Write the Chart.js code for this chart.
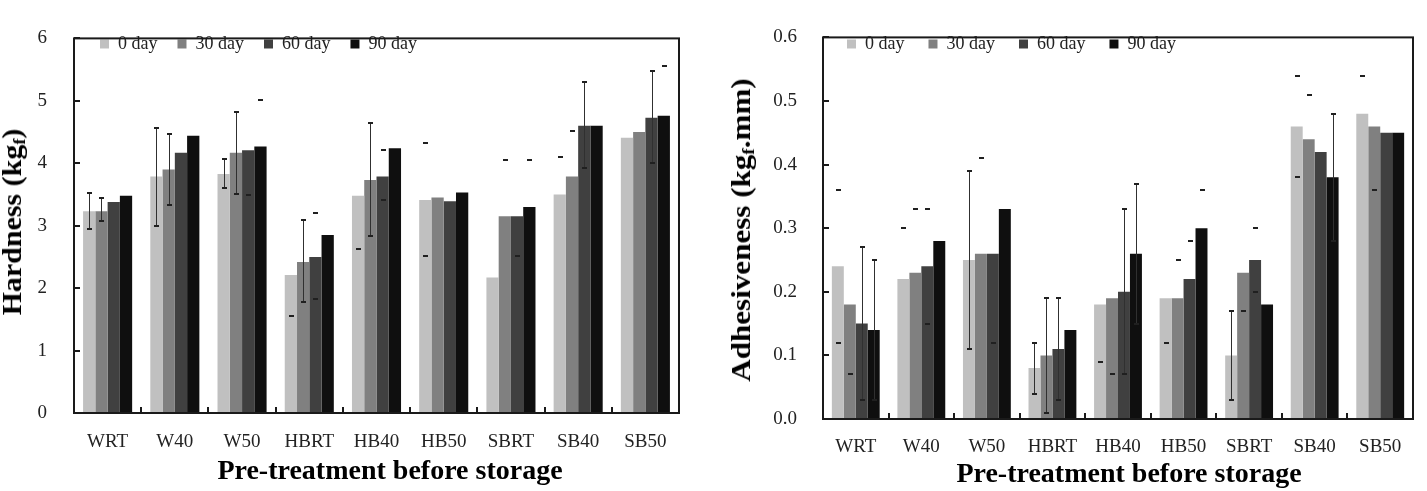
<!DOCTYPE html>
<html><head><meta charset="utf-8">
<script src="https://cdn.jsdelivr.net/npm/chart.js@4.4.1/dist/chart.umd.min.js"></script>
<style>
html,body{margin:0;padding:0;background:#fff;width:1427px;height:491px;overflow:hidden;position:relative;font-family:"Liberation Serif","Times New Roman",serif;}
canvas{position:absolute;top:0;}
#c1{left:0;} #c2{left:710px;}
.t{position:absolute;font-weight:bold;font-size:28px;color:#000;white-space:nowrap;line-height:1;font-family:"Liberation Serif","Times New Roman",serif;}
.tx{transform:translate(-50%,-50%);}
sub{font-size:62%;vertical-align:-0.22em;line-height:0;}
</style></head><body>
<canvas id="c1" width="710" height="491"></canvas>
<canvas id="c2" width="717" height="491"></canvas>
<div class="t" style="left:12px;top:222px;transform:translate(-50%,-50%) rotate(-90deg) scaleX(1.07)">Hardness (kg<sub>f</sub>)</div>
<div class="t tx" style="left:390px;top:470px">Pre-treatment before storage</div>
<div class="t" style="left:741px;top:230px;transform:translate(-50%,-50%) rotate(-90deg) scaleX(1.11)">Adhesiveness (kg<sub>f</sub>.mm)</div>
<div class="t tx" style="left:1129px;top:473px">Pre-treatment before storage</div>
<script>
// ---------- data ----------
const categories = ['WRT','W40','W50','HBRT','HB40','HB50','SBRT','SB40','SB50'];
const seriesNames = ['0 day','30 day','60 day','90 day'];

const hardness0  = [3.23, 3.79, 3.83, 2.21, 3.48, 3.41, 2.17, 3.50, 4.41];
const hardness30 = [3.23, 3.90, 4.17, 2.42, 3.73, 3.45, 3.15, 3.79, 4.50];
const hardness60 = [3.38, 4.17, 4.21, 2.50, 3.79, 3.39, 3.15, 4.60, 4.73];
const hardness90 = [3.48, 4.44, 4.27, 2.85, 4.24, 3.53, 3.30, 4.60, 4.76];

const adhesiveness0  = [0.24, 0.22, 0.25, 0.08, 0.18, 0.19, 0.10, 0.46, 0.48];
const adhesiveness30 = [0.18, 0.23, 0.26, 0.10, 0.19, 0.19, 0.23, 0.44, 0.46];
const adhesiveness60 = [0.15, 0.24, 0.26, 0.11, 0.20, 0.22, 0.25, 0.42, 0.45];
const adhesiveness90 = [0.14, 0.28, 0.33, 0.14, 0.26, 0.30, 0.18, 0.38, 0.45];

const hardnessTicks = [0, 1, 2, 3, 4, 5, 6];
const hardnessTickLabels = ['0','1','2','3','4','5','6'];
const adhesivenessTicks = [0, 0.1, 0.2, 0.3, 0.4, 0.5, 0.6];
const adhesivenessTickLabels = ['0.0','0.1','0.2','0.3','0.4','0.5','0.6'];

// error bars (rows = series 0/30/60/90 day), null = not visible; stem = 1 when the vertical line is visible
const hardErrLow = [
  [2.94, 3.00, 3.60, 1.55, 2.62, 2.51, null, null, null],
  [3.07, 3.33, 3.51, 1.78, 2.83, null, null, null, null],
  [null, null, 3.49, 1.83, 3.41, null, 2.51, 3.93, 4.00],
  [null, null, null, null, null, null, null, null, null]
];
const hardErrHigh = [
  [3.53, 4.57, 4.07, null, null, 4.33, null, 4.10, null],
  [3.44, 4.47, 4.82, 3.09, 4.64, null, 4.05, 4.52, null],
  [null, null, null, 3.20, 4.22, null, null, 5.30, 5.47],
  [null, null, 5.02, null, null, null, 4.05, null, 5.55]
];
const hardErrStem = [
  [1,1,1,0,0,0,0,0,0],
  [1,1,1,1,1,0,0,0,0],
  [0,0,0,0,0,0,0,1,1],
  [0,0,0,0,0,0,0,0,0]
];

const adhErrLow = [
  [0.12, null, 0.11, 0.04, 0.09, 0.12, 0.03, 0.38, null],
  [0.07, null, null, 0.01, 0.07, null, 0.17, null, 0.36],
  [0.03, 0.15, 0.12, 0.03, 0.07, null, 0.20, null, null],
  [0.03, null, null, null, 0.15, null, null, 0.28, null]
];
const adhErrHigh = [
  [0.36, 0.30, 0.39, 0.12, null, null, 0.17, 0.54, 0.54],
  [null, 0.33, 0.41, 0.19, null, 0.25, null, 0.51, null],
  [0.27, 0.33, null, 0.19, 0.33, 0.28, 0.30, null, null],
  [0.25, null, null, null, 0.37, 0.36, null, 0.48, null]
];
const adhErrStem = [
  [0,0,1,1,0,0,1,0,0],
  [0,0,0,1,0,0,0,0,0],
  [1,0,0,1,1,0,0,0,0],
  [1,0,0,0,1,0,0,1,0]
];

// ---------- styling ----------
const barColors = ['#c0c0c0', '#808080', '#404040', '#0f0f0f'];
const FONT = 'Liberation Serif';

function errorBarPlugin(low, high, stem) {
  return {
    id: 'errbars',
    afterDatasetsDraw(chart) {
      const ctx = chart.ctx, ys = chart.scales.y;
      ctx.save();
      low.forEach((row, si) => {
        const meta = chart.getDatasetMeta(si);
        row.forEach((lo, ci) => {
          const hi = high[si][ci];
          const x = Math.round(meta.data[ci].x);
          ctx.strokeStyle = '#303030';
          ctx.fillStyle = '#202020';
          ctx.lineWidth = 1;
          if (stem[si][ci] && lo != null && hi != null) {
            ctx.beginPath();
            ctx.moveTo(x + 0.5, ys.getPixelForValue(lo));
            ctx.lineTo(x + 0.5, ys.getPixelForValue(hi));
            ctx.stroke();
          }
          [lo, hi].forEach(v => {
            if (v == null) return;
            const py = Math.round(ys.getPixelForValue(v));
            ctx.fillRect(x - 2, py - 1, 5, 2);
          });
        });
      });
      ctx.restore();
    }
  };
}

const framePlugin = {
  id: 'frame',
  afterDatasetsDraw(chart) {
    const ctx = chart.ctx, a = chart.chartArea, xs = chart.scales.x, ys = chart.scales.y;
    ctx.save();
    ctx.strokeStyle = '#1a1a1a';
    ctx.lineWidth = 2;
    ctx.strokeRect(a.left, a.top, a.right - a.left, a.bottom - a.top);
    ctx.beginPath();
    ys.ticks.forEach(t => {
      const py = Math.round(ys.getPixelForValue(t.value));
      ctx.moveTo(a.left, py); ctx.lineTo(a.left + 6, py);
    });
    for (let i = 1; i < categories.length; i++) {
      const px = Math.round(xs.getPixelForValue(i - 0.5));
      ctx.moveTo(px, a.bottom); ctx.lineTo(px, a.bottom - 6);
    }
    ctx.stroke();
    ctx.restore();
  }
};

function legendPlacer(left, top) {
  return {
    id: 'legendPlacer',
    beforeLayout(chart) {
      const lg = chart.legend;
      if (lg && !lg._patched) {
        const origFit = lg.fit.bind(lg);
        lg.fit = function () { origFit(); this.height = 0; };
        lg._patched = true;
      }
    },
    afterLayout(chart) {
      const lg = chart.legend;
      if (!lg) return;
      const w = lg.width;
      lg.left = left; lg.right = left + w; lg.top = top; lg.bottom = top + 80;
      lg.height = 80;
    }
  };
}

function makeChart(id, series, ticks, tickLabels, yMax, errLow, errHigh, errStem, lay) {
  return new Chart(document.getElementById(id), {
    type: 'bar',
    data: {
      labels: categories,
      datasets: series.map((vals, i) => ({
        label: seriesNames[i],
        data: vals,
        backgroundColor: barColors[i],
        borderWidth: 0,
        categoryPercentage: 0.73,
        barPercentage: 1.0
      }))
    },
    options: {
      responsive: false,
      devicePixelRatio: 1,
      animation: false,
      layout: { padding: { left: 0, right: lay.padRight, top: lay.padTop, bottom: 0 } },
      plugins: {
        legend: {
          position: 'top',
          align: 'start',
          labels: {
            boxWidth: 9, boxHeight: 9, padding: lay.legendPad,
            color: '#222',
            font: { family: FONT, size: 18 }
          }
        },
        tooltip: { enabled: false }
      },
      scales: {
        x: {
          grid: { display: false, drawTicks: false },
          border: { display: false },
          ticks: { color: '#222', font: { family: FONT, size: 19 }, padding: lay.xTickPad, maxRotation: 0, autoSkip: false },
          afterFit: s => { s.height = lay.xAxisH; }
        },
        y: {
          min: 0, max: yMax,
          grid: { display: false, drawTicks: false },
          border: { display: false },
          afterBuildTicks: s => { s.ticks = ticks.map(v => ({ value: v })); },
          ticks: {
            color: '#222', font: { family: FONT, size: 19 }, padding: lay.yTickPad,
            callback: (v, i) => tickLabels[i]
          },
          afterFit: s => { s.width = lay.yAxisW; }
        }
      }
    },
    plugins: [errorBarPlugin(errLow, errHigh, errStem), framePlugin, legendPlacer(lay.legendLeft, lay.legendTop)]
  });
}

makeChart('c1', [hardness0, hardness30, hardness60, hardness90], hardnessTicks, hardnessTickLabels, 6,
  hardErrLow, hardErrHigh, hardErrStem,
  { padRight: 31, padTop: 17, xAxisH: 78, yAxisW: 74, xTickPad: 18, yTickPad: 27, legendPad: 20, legendLeft: 80, legendTop: 15 });

makeChart('c2', [adhesiveness0, adhesiveness30, adhesiveness60, adhesiveness90], adhesivenessTicks, adhesivenessTickLabels, 0.6,
  adhErrLow, adhErrHigh, adhErrStem,
  { padRight: 14, padTop: 11, xAxisH: 72, yAxisW: 113, xTickPad: 17, yTickPad: 26, legendPad: 24, legendLeft: 113, legendTop: 11 });
</script>
</body></html>
